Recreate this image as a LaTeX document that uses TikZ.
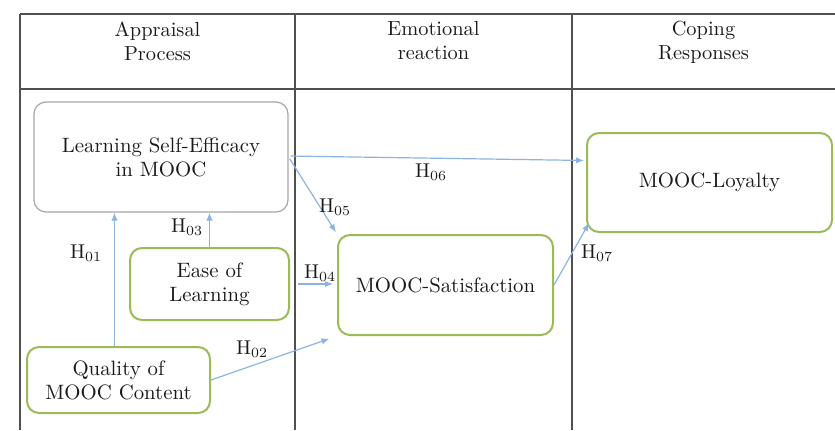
\documentclass[tikz,border=0pt]{standalone}
\usepackage{fontspec}
\usetikzlibrary{arrows.meta,calc}
\definecolor{grline}{HTML}{505050}
\definecolor{boxgreen}{HTML}{9BBB59}
\definecolor{boxgray}{HTML}{A6A6A6}
\definecolor{arrblue}{HTML}{8DB3E2}
\definecolor{txt}{HTML}{1A1A1A}
\begin{document}
\begin{tikzpicture}[x=0.5pt,y=-0.5pt,
  tline/.style={draw=grline,line width=0.8pt},
  box/.style={draw=boxgreen,line width=1pt,rounded corners=6pt,align=center,text=txt,font=\rmfamily\fontsize{10.4}{12}\selectfont,inner sep=0pt},
  graybox/.style={box,draw=boxgray,line width=0.6pt},
  head/.style={align=center,text=txt,font=\rmfamily\fontsize{10.2}{12}\selectfont,inner sep=0pt,anchor=north},
  arr/.style={draw=arrblue,line width=0.6pt,-{Latex[length=4pt,width=3.2pt]}},
  lab/.style={text=txt,font=\rmfamily\fontsize{10}{12}\selectfont,inner sep=0pt}]
\useasboundingbox (0,0) rectangle (835,430);
% table
\draw[tline] (20,14) -- (835,14);
\draw[tline] (20,89) -- (835,89);
\draw[tline] (20,14) -- (20,430);
\draw[tline] (295,14) -- (295,430);
\draw[tline] (572,14) -- (572,430);
\node[head] (h1) at (157.5,21) {Appraisal\\Process};
\node[head] (h2) at (433.5,21) {Emotional\\reaction};
\node[head] (h3) at (703.5,21) {Coping\\Responses};
% nodes
\node[graybox,minimum width=127pt,minimum height=55pt] (LSE) at (161,157) {Learning Self-Efficacy\\in MOOC};
\node[box,minimum width=79.5pt,minimum height=36pt] (E) at (209.5,284) {Ease of\\Learning};
\node[box,minimum width=91.5pt,minimum height=33pt] (Q) at (118.5,380) {Quality of\\MOOC Content};
\node[box,minimum width=107.5pt,minimum height=50pt] (S) at (445.5,285) {MOOC-Satisfaction};
\node[box,minimum width=122.5pt,minimum height=49.5pt] (L) at (709.5,182.5) {MOOC-Loyalty};
% arrows
\draw[arr] ([xshift=-2pt]Q.north) -- ([xshift=-2pt]Q.north |- LSE.south);
\draw[arr] (E.north) -- (E.north |- LSE.south);
\draw[arr,shorten <=4pt,shorten >=2pt] (E.east) -- (E.east -| S.west);
\draw[arr,shorten >=4pt] (Q.east) -- (S.south west);
\draw[arr,shorten <=1pt,shorten >=1pt] (LSE.east) -- (S.north west);
\draw[arr,shorten <=1pt,shorten >=1pt] ([yshift=0.5pt]LSE.east) -- ([yshift=11pt]L.west);
\draw[arr] (S.east) -- ([shift={(1.5pt,5pt)}]L.south west);
% labels
\node[lab] (l01) at (86,253) {H\textsubscript{01}};
\node[lab] (l03) at (187,227) {H\textsubscript{03}};
\node[lab] (l04) at (320,273) {H\textsubscript{04}};
\node[lab] (l02) at (252,349) {H\textsubscript{02}};
\node[lab] (l05) at (335,207) {H\textsubscript{05}};
\node[lab] (l06) at (431,172) {H\textsubscript{06}};
\node[lab] (l07) at (597,253) {H\textsubscript{07}};
\end{tikzpicture}
\end{document}
